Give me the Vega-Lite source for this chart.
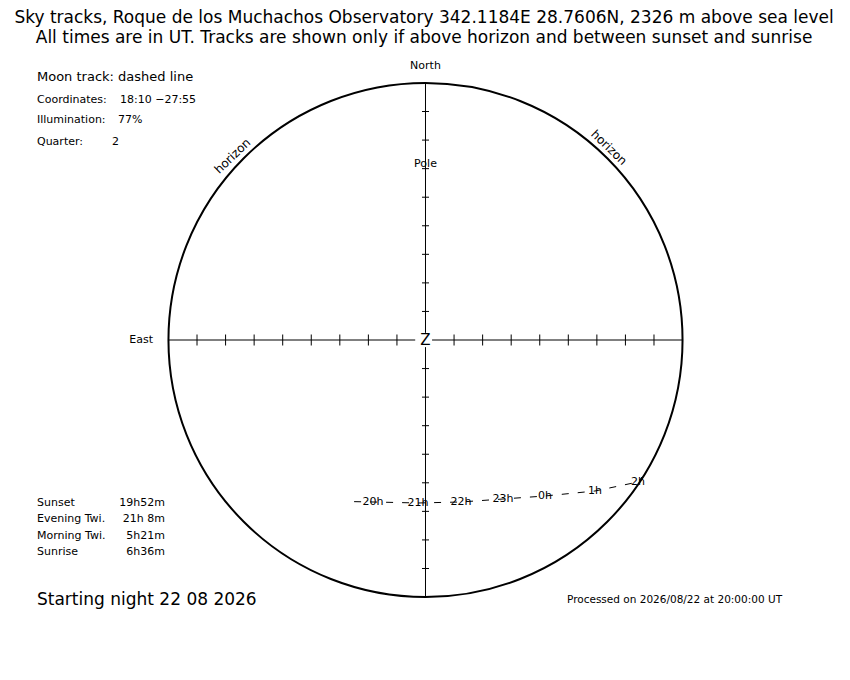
{
  "$schema": "https://vega.github.io/schema/vega-lite/v6.json",
  "width": 850,
  "height": 680,
  "autosize": {"type": "fit", "contains": "padding"},
  "padding": 0,
  "background": "white",
  "config": {"view": {"stroke": null}, "text": {"font": "DejaVu Sans", "color": "black"}},
  "encoding": {
    "x": {"field": "x", "type": "quantitative", "scale": {"domain": [-148.98, 148.63], "nice": false, "zero": false}, "axis": null},
    "y": {"field": "y", "type": "quantitative", "scale": {"domain": [-119.05, 119.05], "nice": false, "zero": false}, "axis": null}
  },
  "datasets": {
    "centre": [{"x": 0, "y": 0}],
    "axes": [
      {"x": -90, "y": 0, "x2": -3.6, "y2": 0},
      {"x": 2.3, "y": 0, "x2": 90, "y2": 0},
      {"x": 0, "y": 90, "x2": 0, "y2": 2.5},
      {"x": 0, "y": -2.5, "x2": 0, "y2": -90}
    ],
    "hticks": [
      {"x": -80, "y": 0}, {"x": -70, "y": 0}, {"x": -60, "y": 0}, {"x": -50, "y": 0},
      {"x": -40, "y": 0}, {"x": -30, "y": 0}, {"x": -20, "y": 0}, {"x": -10, "y": 0},
      {"x": 10, "y": 0}, {"x": 20, "y": 0}, {"x": 30, "y": 0}, {"x": 40, "y": 0},
      {"x": 50, "y": 0}, {"x": 60, "y": 0}, {"x": 70, "y": 0}, {"x": 80, "y": 0}
    ],
    "vticks": [
      {"x": 0, "y": -80}, {"x": 0, "y": -70}, {"x": 0, "y": -60}, {"x": 0, "y": -50},
      {"x": 0, "y": -40}, {"x": 0, "y": -30}, {"x": 0, "y": -20}, {"x": 0, "y": -10},
      {"x": 0, "y": 10}, {"x": 0, "y": 20}, {"x": 0, "y": 30}, {"x": 0, "y": 40},
      {"x": 0, "y": 50}, {"x": 0, "y": 60}, {"x": 0, "y": 70}, {"x": 0, "y": 80}
    ],
    "track": [
      {"x": -25.0, "y": -56.6, "t": ""},
      {"x": -18.38, "y": -56.72, "t": "20h"},
      {"x": -2.63, "y": -57.07, "t": "21h"},
      {"x": 12.43, "y": -56.72, "t": "22h"},
      {"x": 27.14, "y": -55.67, "t": "23h"},
      {"x": 41.84, "y": -54.62, "t": "0h"},
      {"x": 59.35, "y": -52.87, "t": "1h"},
      {"x": 74.4, "y": -49.72, "t": "2h"},
      {"x": 75.8, "y": -47.97, "t": ""}
    ],
    "labels": [
      {"g": "head", "x": -0.5, "y": 112.75, "t": "Sky tracks, Roque de los Muchachos Observatory 342.1184E  28.7606N, 2326 m above sea level"},
      {"g": "head", "x": -0.5, "y": 105.74, "t": "All times are in UT. Tracks are shown only if above horizon and between sunset and sunrise"},
      {"g": "moon", "x": -136.03, "y": 92.09, "t": "Moon track: dashed line"},
      {"g": "info", "x": -136.03, "y": 84.21, "t": "Coordinates:"},
      {"g": "info", "x": -106.97, "y": 84.21, "t": "18:10 −27:55"},
      {"g": "info", "x": -136.03, "y": 77.03, "t": "Illumination:"},
      {"g": "info", "x": -107.67, "y": 77.03, "t": "77%"},
      {"g": "info", "x": -136.03, "y": 69.33, "t": "Quarter:"},
      {"g": "info", "x": -109.77, "y": 69.33, "t": "2"},
      {"g": "info", "x": -136.03, "y": -56.9, "t": "Sunset"},
      {"g": "info", "x": -136.03, "y": -62.74, "t": "Evening Twi."},
      {"g": "info", "x": -136.03, "y": -68.63, "t": "Morning Twi."},
      {"g": "info", "x": -136.03, "y": -74.23, "t": "Sunrise"},
      {"g": "val", "x": -91.21, "y": -56.9, "t": "19h52m"},
      {"g": "val", "x": -91.21, "y": -62.74, "t": "21h 8m"},
      {"g": "val", "x": -91.21, "y": -68.63, "t": "5h21m"},
      {"g": "val", "x": -91.21, "y": -74.23, "t": "6h36m"},
      {"g": "start", "x": -136.03, "y": -91.04, "t": "Starting night 22 08 2026"},
      {"g": "proc", "x": 49.54, "y": -91.04, "t": "Processed on 2026/08/22 at 20:00:00 UT"},
      {"g": "comp", "x": 0, "y": 96.11, "t": "North"},
      {"g": "comp", "x": 0, "y": 61.8, "t": "Pole"},
      {"g": "east", "x": -95.4, "y": 0, "t": "East"},
      {"g": "z", "x": 0, "y": 0, "t": "Z"},
      {"g": "hl", "x": -67.58, "y": 64.43, "t": "horizon"},
      {"g": "hr", "x": 64.25, "y": 67.4, "t": "horizon"}
    ]
  },
  "layer": [
    {
      "data": {"name": "centre"},
      "mark": {"type": "point", "shape": "circle", "size": 264290, "filled": false, "strokeWidth": 2, "color": "black", "opacity": 1}
    },
    {
      "data": {"name": "axes"},
      "mark": {"type": "rule", "color": "black", "strokeWidth": 1},
      "encoding": {"x2": {"field": "x2"}, "y2": {"field": "y2"}}
    },
    {
      "data": {"name": "hticks"},
      "mark": {"type": "tick", "orient": "vertical", "size": 11, "thickness": 1, "color": "black", "opacity": 1}
    },
    {
      "data": {"name": "vticks"},
      "mark": {"type": "tick", "orient": "horizontal", "size": 7, "thickness": 1, "color": "black", "opacity": 1}
    },
    {
      "data": {"name": "track"},
      "mark": {"type": "line", "color": "black", "strokeWidth": 1, "strokeDash": [7, 9]},
      "encoding": {}
    },
    {
      "data": {"name": "track"},
      "mark": {"type": "text", "fontSize": 11, "align": "center", "baseline": "middle"},
      "encoding": {"text": {"field": "t"}}
    },
    {
      "data": {"name": "labels"},
      "transform": [{"filter": "datum.g === 'head'"}],
      "mark": {"type": "text", "fontSize": 17, "align": "center", "baseline": "middle"},
      "encoding": {"text": {"field": "t"}}
    },
    {
      "data": {"name": "labels"},
      "transform": [{"filter": "datum.g === 'moon'"}],
      "mark": {"type": "text", "fontSize": 13, "align": "left", "baseline": "middle"},
      "encoding": {"text": {"field": "t"}}
    },
    {
      "data": {"name": "labels"},
      "transform": [{"filter": "datum.g === 'info'"}],
      "mark": {"type": "text", "fontSize": 11, "align": "left", "baseline": "middle"},
      "encoding": {"text": {"field": "t"}}
    },
    {
      "data": {"name": "labels"},
      "transform": [{"filter": "datum.g === 'val'"}],
      "mark": {"type": "text", "fontSize": 11, "align": "right", "baseline": "middle"},
      "encoding": {"text": {"field": "t"}}
    },
    {
      "data": {"name": "labels"},
      "transform": [{"filter": "datum.g === 'start'"}],
      "mark": {"type": "text", "fontSize": 17, "align": "left", "baseline": "middle"},
      "encoding": {"text": {"field": "t"}}
    },
    {
      "data": {"name": "labels"},
      "transform": [{"filter": "datum.g === 'proc'"}],
      "mark": {"type": "text", "fontSize": 10.5, "align": "left", "baseline": "middle"},
      "encoding": {"text": {"field": "t"}}
    },
    {
      "data": {"name": "labels"},
      "transform": [{"filter": "datum.g === 'comp'"}],
      "mark": {"type": "text", "fontSize": 11, "align": "center", "baseline": "middle"},
      "encoding": {"text": {"field": "t"}}
    },
    {
      "data": {"name": "labels"},
      "transform": [{"filter": "datum.g === 'east'"}],
      "mark": {"type": "text", "fontSize": 11, "align": "right", "baseline": "middle"},
      "encoding": {"text": {"field": "t"}}
    },
    {
      "data": {"name": "labels"},
      "transform": [{"filter": "datum.g === 'z'"}],
      "mark": {"type": "text", "fontSize": 15, "align": "center", "baseline": "middle"},
      "encoding": {"text": {"field": "t"}}
    },
    {
      "data": {"name": "labels"},
      "transform": [{"filter": "datum.g === 'hl'"}],
      "mark": {"type": "text", "fontSize": 12, "align": "center", "baseline": "middle", "angle": -44},
      "encoding": {"text": {"field": "t"}}
    },
    {
      "data": {"name": "labels"},
      "transform": [{"filter": "datum.g === 'hr'"}],
      "mark": {"type": "text", "fontSize": 12, "align": "center", "baseline": "middle", "angle": 44},
      "encoding": {"text": {"field": "t"}}
    }
  ]
}
